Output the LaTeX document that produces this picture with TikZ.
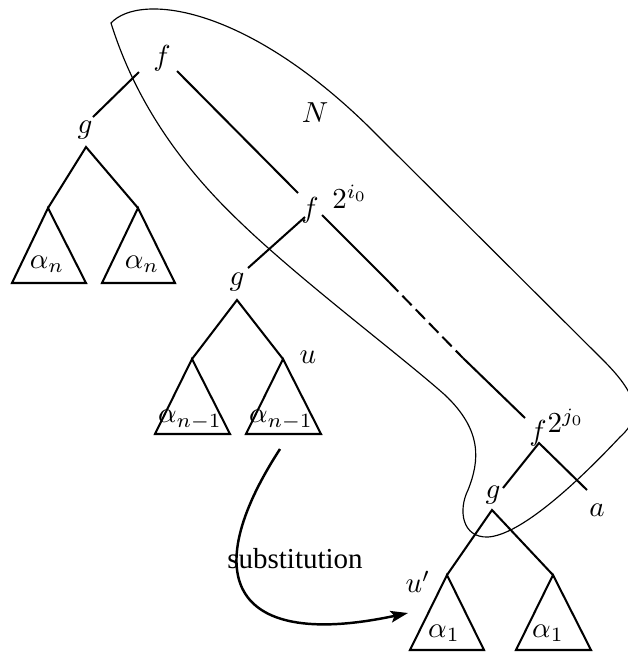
\documentclass[tikz,border=0pt]{standalone}
\usepackage{fontspec}
\newfontfamily\timesfont{Liberation Serif}
\usetikzlibrary{arrows.meta}
\begin{document}
\begin{tikzpicture}[x=0.345pt,y=-0.345pt,
  edge/.style={line width=0.7pt},
  blob/.style={line width=0.4pt},
  lbl/.style={inner sep=0pt},
  subarrow/.style={line width=0.85pt,-{Stealth[length=6pt,width=4pt,inset=1.2pt]}}]
\useasboundingbox (0,0) rectangle (628,659);
% outline N
\draw[blob] (111,23) .. controls (140,-8) and (250,5) .. (380,138)
  -- (603,360) .. controls (635,392) and (645,415) .. (620,437)
  .. controls (575,485) and (520,535) .. (488,537)
  .. controls (462,538) and (458,510) .. (468,490)
  .. controls (480,460) and (482,430) .. (445,395)
  .. controls (400,355) and (300,280) .. (240,222)
  .. controls (180,165) and (135,100) .. (111,23) -- cycle;
% labels
\node[lbl] (f1) at (162,58) {$f$};
\node[lbl] (g1) at (85,130) {$g$};
\node[lbl] (f2) at (310,210) {$f$};
\node[lbl] (i0) at (350,197) {$2^{i_0}$};
\node[lbl] (g2) at (237,282) {$g$};
\node[lbl] (u) at (308,357) {$u$};
\node[lbl] (f3) at (538,433) {$f$};
\node[lbl] (j0) at (566,421) {$2^{j_0}$};
\node[lbl] (g3) at (493,495) {$g$};
\node[lbl] (a) at (597,510) {$a$};
\node[lbl] (up) at (418,582) {$u'$};
\node[lbl] (N) at (315,113) {$N$};
\node[lbl] (an1) at (47,264) {$\alpha_n$};
\node[lbl] (an2) at (142,264) {$\alpha_n$};
\node[lbl] (am1) at (190,420) {$\alpha_{n-1}$};
\node[lbl] (am2) at (281,420) {$\alpha_{n-1}$};
\node[lbl] (a11) at (444,633) {$\alpha_1$};
\node[lbl] (a12) at (548,633) {$\alpha_1$};
\node[lbl] (sub) at (295,559) {\timesfont substitution};
% coordinates
\coordinate (f1a) at (139,72); \coordinate (g1t) at (93,117);
\coordinate (f1b) at (177,71); \coordinate (f2t) at (298,193);
\coordinate (g1x) at (86,147); \coordinate (g1L) at (48,208); \coordinate (g1R) at (138,208);
\coordinate (f2a) at (305,217); \coordinate (g2t) at (248,268);
\coordinate (f2b) at (322,215); \coordinate (d1) at (389,282); \coordinate (d2) at (463,358); \coordinate (f3t) at (525,418);
\coordinate (g2x) at (237,300); \coordinate (g2L) at (192,359); \coordinate (g2R) at (283,359);
\coordinate (f3x) at (539,443); \coordinate (g3t) at (503,488); \coordinate (at) at (587,490);
\coordinate (g3x) at (492,510); \coordinate (g3L) at (447,575); \coordinate (g3R) at (553,575);
\coordinate (s0) at (280,449); \coordinate (s1) at (408,613);
% edges
\draw[edge] (f1a) -- (g1t);
\draw[edge] (f1b) -- (f2t);
\draw[edge] (g1L) -- (g1x) -- (g1R);
\draw[edge] (g1L) -- (12,283) -- (86,283) -- cycle;
\draw[edge] (g1R) -- (102,283) -- (175,283) -- cycle;
\draw[edge] (f2a) -- (g2t);
\draw[edge] (f2b) -- (d1);
\draw[edge,dash pattern=on 4.6pt off 2pt] (d1) -- (d2);
\draw[edge] (d2) -- (f3t);
\draw[edge] (g2L) -- (g2x) -- (g2R);
\draw[edge] (g2L) -- (155,434) -- (230,434) -- cycle;
\draw[edge] (g2R) -- (246,434) -- (321,434) -- cycle;
\draw[edge] (g3t) -- (f3x) -- (at);
\draw[edge] (g3L) -- (g3x) -- (g3R);
\draw[edge] (g3L) -- (410,650) -- (484,650) -- cycle;
\draw[edge] (g3R) -- (516,650) -- (591,650) -- cycle;
% substitution arrow
\draw[subarrow] (s0) .. controls (195,580) and (235,650) .. (s1);
\end{tikzpicture}
\end{document}
